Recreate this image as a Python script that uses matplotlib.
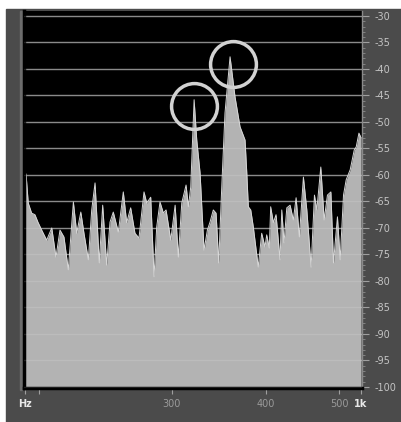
import numpy as np
import matplotlib.pyplot as plt
from matplotlib.patches import Rectangle
from matplotlib.ticker import MultipleLocator

plt.rcParams['axes.unicode_minus'] = False

# spectrum (frequency in Hz, level in dB)
freq = [191.0, 192.0, 193.3, 195.3, 197.3, 199.1, 201.4, 204.5, 207.7, 210.4,
        213.0, 215.6, 218.5, 221.9, 224.2, 227.0, 229.2, 232.3, 234.7, 237.1,
        240.2, 242.7, 245.7, 248.2, 250.7, 254.6, 258.5, 261.2, 264.4, 267.9,
        271.2, 275.4, 277.7, 281.1, 284.0, 286.3, 289.2, 292.2, 294.6, 298.9,
        302.9, 305.9, 309.1, 313.2, 315.4, 317.7, 321.0, 323.6, 326.9, 330.9,
        334.3, 337.0, 340.4, 343.3, 346.1, 349.3, 352.8, 358.3, 363.8, 369.4,
        375.1, 377.1, 378.9, 381.7, 384.7, 390.6, 394.7, 398.7, 400.8, 404.0,
        405.7, 409.0, 412.4, 417.5, 419.7, 422.6, 426.2, 430.5, 434.8, 438.5,
        442.9, 448.4, 453.1, 459.1, 463.8, 467.2, 472.9, 477.8, 482.6, 487.7,
        491.6, 497.6, 501.8, 506.9, 511.1, 517.4, 523.8, 527.0, 531.4, 535.0]
level = [-61.0, -59.8, -65.3, -67.2, -67.5, -68.9, -70.4, -72.3, -70.0, -75.5,
         -70.4, -71.7, -77.9, -65.1, -71.0, -67.0, -71.0, -76.0, -66.6, -61.5,
         -76.6, -65.7, -77.0, -68.9, -67.0, -70.8, -63.2, -69.0, -66.2, -71.0,
         -71.9, -63.2, -65.3, -64.2, -79.2, -69.8, -65.1, -67.2, -66.6, -72.3,
         -65.7, -75.5, -65.3, -61.9, -66.0, -62.3, -45.8, -53.4, -59.6, -74.2,
         -70.4, -68.9, -66.6, -67.2, -76.6, -62.3, -48.3, -37.7, -45.3, -50.9,
         -53.4, -59.6, -66.0, -66.6, -69.8, -77.4, -71.0, -73.6, -71.3, -73.8,
         -66.0, -69.0, -67.5, -76.0, -66.6, -72.8, -66.2, -65.7, -68.5, -64.3,
         -71.7, -60.4, -66.6, -77.4, -63.8, -66.6, -58.5, -68.5, -63.8, -63.2,
         -76.6, -67.9, -76.0, -63.8, -60.9, -59.0, -55.3, -54.7, -52.1, -53.0]

# circled peaks
mark_freq = [321.3, 361.8]
mark_level = [-47.0, -39.1]

x_ticks = [191.5, 200, 300, 400, 500, 534]
x_labels = ['Hz', '', '300', '400', '500', '1k']
y_ticks = list(range(-30, -101, -5))

fig = plt.figure(figsize=(4.02, 4.22), dpi=100, facecolor='white')
fig.add_artist(Rectangle((6 / 402, 0), 1, 1 - 9 / 422, transform=fig.transFigure,
                         color='#4b4b4b', zorder=-10))
fig.add_artist(Rectangle((20 / 402, 1 - 390 / 422), 2 / 402, 379 / 422,
                         transform=fig.transFigure, color='#6c6c6c', zorder=-9))

ax = fig.add_axes([24 / 402, 1 - 388 / 422, 338 / 402, 377 / 422])
ax.set_facecolor('black')
ax.set_xscale('log')
ax.set_xlim(190.8, 536.4)
ax.set_ylim(-100.2, -29.06)

for v in y_ticks:
    ax.axhline(v, color='#7a7a7a', lw=1, zorder=1)
ax.fill_between(freq, level, -101, color='#b3b3b3', lw=0, zorder=2)
ax.plot(freq, level, color='#d6d6d6', lw=0.7, zorder=2.5)
for v in y_ticks:
    ax.axhline(v, color='white', alpha=0.12, lw=1, zorder=3)

ax.plot(mark_freq, mark_level, 'o', ms=33, mfc='none', mec='#d2d2d2', mew=2.5, zorder=5)

# right-hand dB ruler
ax.yaxis.tick_right()
ax.set_yticks(y_ticks)
ax.set_yticklabels([str(v) for v in y_ticks])
ax.yaxis.set_minor_locator(MultipleLocator(1))
ax.tick_params(axis='y', which='major', direction='out', length=5, width=0.8,
               color='#a0a0a0', labelcolor='#c4c4c4', labelsize=7, pad=4)
ax.tick_params(axis='y', which='minor', direction='out', length=2.5, width=0.6,
               color='#8c8c8c')

ax.set_xticks(x_ticks)
ax.set_xticklabels(x_labels)
ax.xaxis.set_minor_locator(plt.NullLocator())
ax.tick_params(axis='x', direction='out', length=4, width=0.8, color='#a0a0a0',
               labelcolor='#9a9a9a', labelsize=7, pad=4)
for t in ax.get_xticklabels():
    if t.get_text() in ('Hz', '1k'):
        t.set_color('#e8e8e8')
        t.set_fontweight('bold')

for s in ('left', 'bottom'):
    ax.spines[s].set_color('black')
    ax.spines[s].set_linewidth(2.5)
ax.spines['top'].set_visible(False)
ax.spines['right'].set_color('#8a8a8a')
ax.spines['right'].set_linewidth(1)

plt.savefig('out.png', dpi=100, facecolor=fig.get_facecolor())
